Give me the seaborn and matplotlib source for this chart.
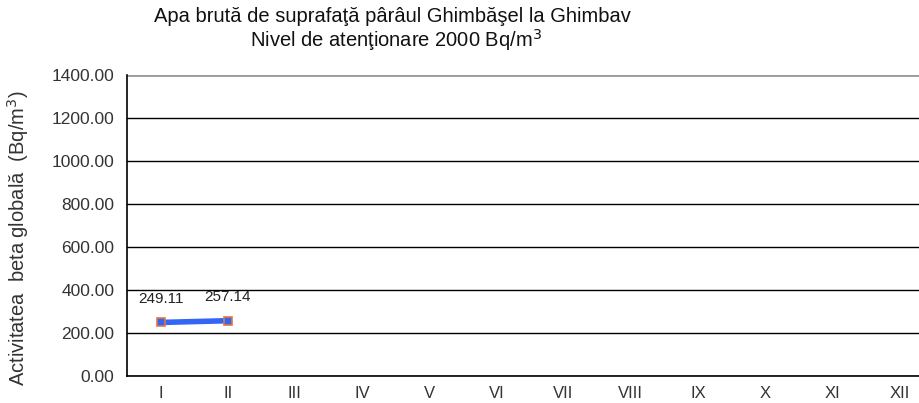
import numpy as np
import pandas as pd
import seaborn as sns
import matplotlib.pyplot as plt

# Datos
luni = ["I", "II", "III", "IV", "V", "VI", "VII", "VIII", "IX", "X", "XI", "XII"]
activitate = [249.11, 257.14] + [np.nan] * 10
y_ticks = [0, 200, 400, 600, 800, 1000, 1200, 1400]

df = pd.DataFrame({"luna": luni, "valoare": activitate})
df["pos"] = np.arange(len(luni)) + 0.5

sns.set_style("white")
plt.rcParams["font.family"] = ["Liberation Sans", "DejaVu Sans"]

fig = plt.figure(figsize=(9.19, 4.03), dpi=100)
ax = fig.add_axes([127 / 919, 1 - 376 / 403, 806 / 919, 301 / 403])

sns.lineplot(data=df, x="pos", y="valoare", ax=ax, color="#3366f5", linewidth=4,
             marker="s", markersize=6, markerfacecolor="#3366f5",
             markeredgecolor="#e07840", markeredgewidth=1.2)

# etichete valori
for p, v in zip(df["pos"], df["valoare"]):
    if not np.isnan(v):
        ax.annotate(f"{v:.2f}", (p, v), xytext=(0, 12), textcoords="offset points",
                    ha="center", va="bottom", fontsize=11, color="#222222")

ax.set_xlim(0, len(luni))
ax.set_ylim(0, 1400)
ax.set_yticks(y_ticks)
ax.set_yticklabels([f"{t:.2f}" for t in y_ticks], fontsize=12.5, color="#333333")

ax.set_xticks(np.arange(0, len(luni) + 1))
ax.set_xticklabels([])
ax.set_xticks(np.arange(len(luni)) + 0.5, minor=True)
ax.set_xticklabels(luni, minor=True, fontsize=12, color="#333333")
ax.tick_params(axis="x", which="major", direction="out", length=5, width=1, color="black")
ax.tick_params(axis="x", which="minor", length=0, pad=7)
ax.tick_params(axis="y", direction="out", length=5, width=1, color="black", pad=4)

for t in y_ticks[:-1]:
    ax.axhline(t, color="black", linewidth=1, zorder=0)
ax.axhline(1400, color="#999999", linewidth=2, zorder=0)

for s in ["top", "right"]:
    ax.spines[s].set_visible(False)
ax.spines["left"].set_color("black")
ax.spines["bottom"].set_color("black")
ax.spines["left"].set_linewidth(1.2)
ax.spines["bottom"].set_linewidth(1.2)

ax.set_xlabel("")
ax.set_ylabel("")
fig.text(18 / 919, 1 - 238 / 403, "Activitatea  beta globală  (Bq/m$^3$)", rotation=90,
         ha="center", va="center", fontsize=14.5, color="#333333")

fig.text(392 / 919, 1 - 16 / 403, "Apa brută de suprafaţă pârâul Ghimbăşel la Ghimbav",
         ha="center", va="center", fontsize=14.5, color="#111111")
fig.text(396 / 919, 1 - 40 / 403, "Nivel de atenţionare 2000 Bq/m$^3$",
         ha="center", va="center", fontsize=14.5, color="#111111")

fig.savefig("out.png", dpi=100)
